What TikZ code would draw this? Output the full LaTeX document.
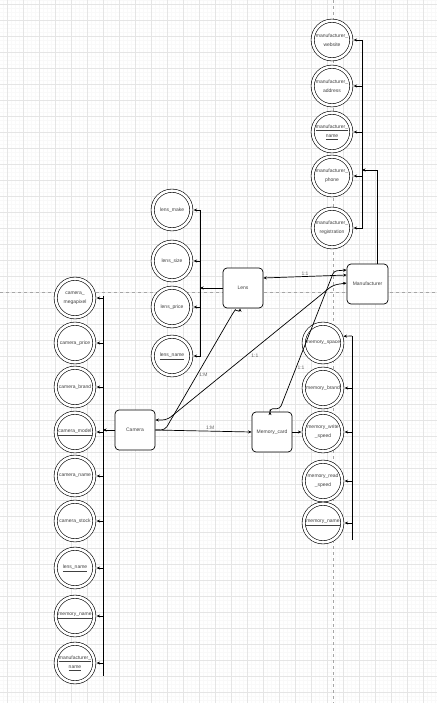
\documentclass[tikz,border=0pt]{standalone}
\usepackage{fontspec}
\setmainfont{Liberation Sans}
\usetikzlibrary{arrows.meta}
\newcommand{\erfont}{\fontsize{5}{9}\selectfont}

\begin{document}
\begin{tikzpicture}[x=1pt, y=-1pt, font=\erfont]
    % Define styles
    \tikzstyle{entity} = [rectangle, rounded corners=4pt, minimum width=40pt, minimum height=40pt, inner sep=0pt, text centered, draw=black, fill=white, line width=0.7pt, text=black!75]
    \tikzstyle{attr} = [circle, draw=black, double, double distance=2.6pt, line width=0.6pt, minimum size=38.6pt, inner sep=0pt, fill=white, align=center, text=black!75]
    \tikzstyle{link} = [line width=0.7pt, -{Stealth[length=3.5pt, width=3pt]}]
    \tikzstyle{twoway} = [line width=0.7pt, {Stealth[length=3.5pt, width=3pt]}-{Stealth[length=3.5pt, width=3pt]}]
    \tikzstyle{bus} = [line width=0.7pt]
    \tikzstyle{card} = [text=black!60, inner sep=1pt]
    \tikzstyle{gridminor} = [black!2.5, line width=0.3pt]
    \tikzstyle{gridmajor} = [black!10, line width=0.6pt]
    \tikzstyle{pagebreak} = [black!35, dashed, line width=0.5pt]

    \useasboundingbox (0,0) rectangle (437,703);
    \fill[white] (0,0) rectangle (437,703);

    % Background grid
    \foreach \gx in {3.5,7.5,...,437} \draw[gridminor] (\gx,0) -- (\gx,703);
    \foreach \gy in {0,4,...,703} \draw[gridminor] (0,\gy) -- (437,\gy);
    \foreach \gx in {7.5,23.5,...,437} \draw[gridmajor] (\gx,0) -- (\gx,703);
    \foreach \gy in {4,20,...,703} \draw[gridmajor] (0,\gy) -- (437,\gy);
    \draw[pagebreak] (333,0) -- (333,703);
    \draw[pagebreak] (0,292) -- (437,292);

    % Place entities
    \node (manu) [entity, minimum width=41pt] at (367.5,284) {Manufacturer};
    \node (lens) [entity] at (243,288) {Lens};
    \node (cam) [entity] at (135,430) {Camera};
    \node (memcard) [entity] at (272,432) {Memory\_card};

    % Manufacturer attributes
    \node (mfweb) [attr] at (332,40) {manufacturer\_\\website};
    \node (mfaddr) [attr] at (332,86) {manufacturer\_\\address};
    \node (mfname) [attr] at (332,132) {\underline{manufacturer\_}\\\underline{name}};
    \node (mfphone) [attr] at (332,176) {manufacturer\_\\phone};
    \node (mfreg) [attr] at (332,228) {manufacturer\_\\registration};

    % Lens attributes
    \node (lmake) [attr] at (172,210) {lens\_make};
    \node (lsize) [attr] at (172,261) {lens\_size};
    \node (lprice) [attr] at (172,307) {lens\_price};
    \node (lname) [attr] at (172,356) {\underline{lens\_name}};

    % Camera attributes
    \node (cmega) [attr] at (75,298) {camera\_\\megapixel};
    \node (cprice) [attr] at (75,343) {camera\_price};
    \node (cbrand) [attr] at (75,387) {camera\_brand};
    \node (cmodel) [attr] at (75,432) {\underline{camera\_model}};
    \node (cname) [attr] at (75,476) {camera\_name};
    \node (cstock) [attr] at (75,521) {camera\_stock};
    \node (clens) [attr] at (75,568) {\underline{lens\_name}};
    \node (cmem) [attr] at (75,616) {\underline{memory\_name}};
    \node (cmanu) [attr] at (75,663) {\underline{manufacturer\_}\\\underline{name}};

    % Memory card attributes
    \node (memspace) [attr] at (323,343) {memory\_space};
    \node (membrand) [attr] at (323,388) {memory\_brand};
    \node (memwrite) [attr] at (323,432) {memory\_write\\\_speed};
    \node (memread) [attr] at (323,481) {memory\_read\\\_speed};
    \node (memname) [attr] at (323,523) {\underline{memory\_name}};

    % Attribute buses
    \coordinate (mftop) at (362,40);
    \coordinate (mfbot) at (362,229);
    \coordinate (mfjoin) at (362,170);
    \draw[bus] (mftop) -- (mfbot);
    \foreach \n in {mfweb,mfaddr,mfname,mfphone,mfreg}
        \draw[link, shorten >=2pt] (\n.east -| mftop) -- (\n.east);
    \draw[link] ([xshift=10pt]manu.north) |- (mfjoin);

    \coordinate (ltop) at (200,210);
    \coordinate (lbot) at (200,357);
    \draw[bus] (ltop) -- (lbot);
    \foreach \n in {lmake,lsize,lprice,lname}
        \draw[link, shorten >=2pt] (\n.east -| ltop) -- (\n.east);
    \draw[link] (lens.west) -- (lens.west -| ltop);

    \coordinate (ctop) at (103,296);
    \coordinate (cbot) at (103,676);
    \draw[bus] (ctop) -- (cbot);
    \foreach \n in {cmega,cprice,cbrand,cmodel,cname,cstock,clens,cmem,cmanu}
        \draw[link, shorten >=2pt] (\n.east -| ctop) -- (\n.east);
    \draw[link] (cam.west) -- (cam.west -| ctop);

    \coordinate (memtop) at (352,336);
    \coordinate (membot) at (352,540);
    \draw[bus] (memtop) -- (membot);
    \draw[link, shorten >=2pt] (memtop) -- (memspace.20);
    \foreach \n in {membrand,memwrite,memread,memname}
        \draw[link, shorten >=2pt] (\n.east -| memtop) -- (\n.east);
    \draw[link, shorten >=2pt] (memcard.east) -- (memwrite.west);

    % Relationships
    \draw[twoway] ([yshift=10pt]lens.east) -- node[card, above] (r1) {1:1} ([yshift=9pt]manu.west);
    \draw[twoway, rounded corners=5pt] ([yshift=10pt]cam.east) -- (167,420) -- node[card, pos=.5, below right=0pt] (r2) {1:1} (333,285) -- ([yshift=1pt]manu.west);
    \draw[link, rounded corners=4pt] (cam.east) -- (165,430) -- node[card, pos=.47, right=1pt] (r3) {1:M} (233,313) to[out=55, in=-90] ([xshift=-3pt]lens.south);
    \draw[link] (cam.east) -- node[card, above, pos=.57] (r4) {1:M} (memcard.west);
    \draw[twoway, rounded corners=3pt] ([xshift=-2pt]memcard.north) -- ++(0,-3) -- ++(10,0) -- node[card, pos=.3, right=0pt] (r5) {1:1} (334,271) -- ([yshift=14pt]manu.west);
\end{tikzpicture}
\end{document}
